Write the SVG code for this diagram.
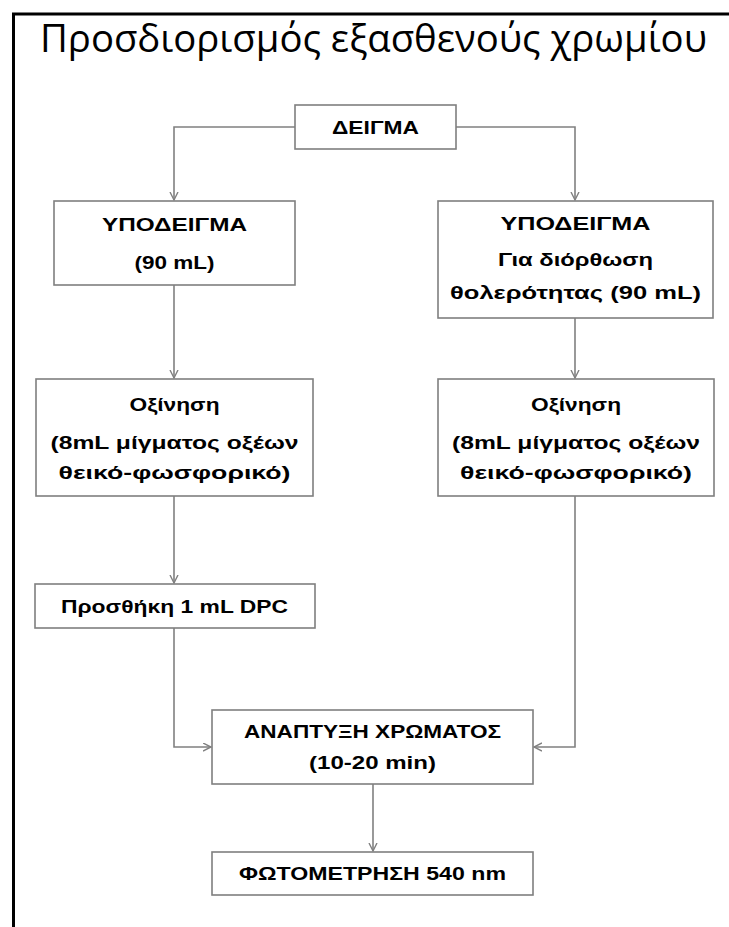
<svg xmlns="http://www.w3.org/2000/svg" width="729" height="927" viewBox="0 0 729 927">
<style>
.box{fill:#fff;stroke:#7f7f7f;stroke-width:1.6}
.t{font-family:"Liberation Sans",Arial,sans-serif;font-weight:bold;font-size:19px;fill:#000;text-anchor:middle}
.c{fill:none;stroke:#808080;stroke-width:1.6}
.title{font-family:"Open Sans","Liberation Sans",Arial,sans-serif;font-size:38px;fill:#000}
</style>
<defs>
<marker id="arr" markerUnits="userSpaceOnUse" markerWidth="10" markerHeight="10" refX="8" refY="4.5" orient="auto">
<path d="M0,0.5 L8,4.5 L0,8.5" fill="none" stroke="#808080" stroke-width="1.4"/>
</marker>
</defs>
<rect x="0" y="0" width="729" height="927" fill="#fff"/>
<path d="M13.5,927 V14 H729" fill="none" stroke="#000" stroke-width="3"/>
<text class="title" x="40" y="52" textLength="667" lengthAdjust="spacingAndGlyphs">Προσδιορισμός εξασθενούς χρωμίου</text>

<g id="connectors">
<path class="c" d="M295,127 H174 V200" marker-end="url(#arr)"/>
<path class="c" d="M456,127 H575 V200" marker-end="url(#arr)"/>
<path class="c" d="M174,285 V378" marker-end="url(#arr)"/>
<path class="c" d="M575,318 V378" marker-end="url(#arr)"/>
<path class="c" d="M174,496 V583" marker-end="url(#arr)"/>
<path class="c" d="M174,628 V747 H211" marker-end="url(#arr)"/>
<path class="c" d="M575,496 V747 H534" marker-end="url(#arr)"/>
<path class="c" d="M373,784 V851" marker-end="url(#arr)"/>
</g>

<g id="deigma">
<rect class="box" x="295" y="105" width="161" height="44"/>
<text class="t" x="375.5" y="134" textLength="87" lengthAdjust="spacingAndGlyphs">ΔΕΙΓΜΑ</text>
</g>
<g id="ypodeigma-left">
<rect class="box" x="54" y="201" width="241" height="84"/>
<text class="t" x="174.5" y="231" textLength="145" lengthAdjust="spacingAndGlyphs">ΥΠΟΔΕΙΓΜΑ</text>
<text class="t" x="174.5" y="269" textLength="80" lengthAdjust="spacingAndGlyphs">(90 mL)</text>
</g>
<g id="ypodeigma-right">
<rect class="box" x="438" y="201" width="275" height="117"/>
<text class="t" x="575.5" y="230" textLength="150" lengthAdjust="spacingAndGlyphs">ΥΠΟΔΕΙΓΜΑ</text>
<text class="t" x="575.5" y="266" textLength="155" lengthAdjust="spacingAndGlyphs">Για διόρθωση</text>
<text class="t" x="575.5" y="299" textLength="251" lengthAdjust="spacingAndGlyphs">θολερότητας (90 mL)</text>
</g>
<g id="oxinisi-left">
<rect class="box" x="36" y="379" width="277" height="117"/>
<text class="t" x="174.5" y="411" textLength="90" lengthAdjust="spacingAndGlyphs">Οξίνηση</text>
<text class="t" x="174.5" y="449" textLength="248" lengthAdjust="spacingAndGlyphs">(8mL μίγματος οξέων</text>
<text class="t" x="174.5" y="479" textLength="232" lengthAdjust="spacingAndGlyphs">θεικό-φωσφορικό)</text>
</g>
<g id="oxinisi-right">
<rect class="box" x="438" y="379" width="276" height="117"/>
<text class="t" x="576" y="411" textLength="90" lengthAdjust="spacingAndGlyphs">Οξίνηση</text>
<text class="t" x="576" y="449" textLength="248" lengthAdjust="spacingAndGlyphs">(8mL μίγματος οξέων</text>
<text class="t" x="576" y="479" textLength="232" lengthAdjust="spacingAndGlyphs">θεικό-φωσφορικό)</text>
</g>
<g id="prosthiki">
<rect class="box" x="35" y="584" width="280" height="44"/>
<text class="t" x="174.5" y="613" textLength="227" lengthAdjust="spacingAndGlyphs">Προσθήκη 1 mL DPC</text>
</g>
<g id="anaptyxi">
<rect class="box" x="212" y="710" width="321" height="74"/>
<text class="t" x="372.5" y="738" textLength="257" lengthAdjust="spacingAndGlyphs">ΑΝΑΠΤΥΞΗ ΧΡΩΜΑΤΟΣ</text>
<text class="t" x="372.5" y="769" textLength="127" lengthAdjust="spacingAndGlyphs">(10-20 min)</text>
</g>
<g id="fotometrisi">
<rect class="box" x="212" y="852" width="321" height="43"/>
<text class="t" x="372.5" y="880" textLength="267" lengthAdjust="spacingAndGlyphs">ΦΩΤΟΜΕΤΡΗΣΗ 540 nm</text>
</g>
</svg>
